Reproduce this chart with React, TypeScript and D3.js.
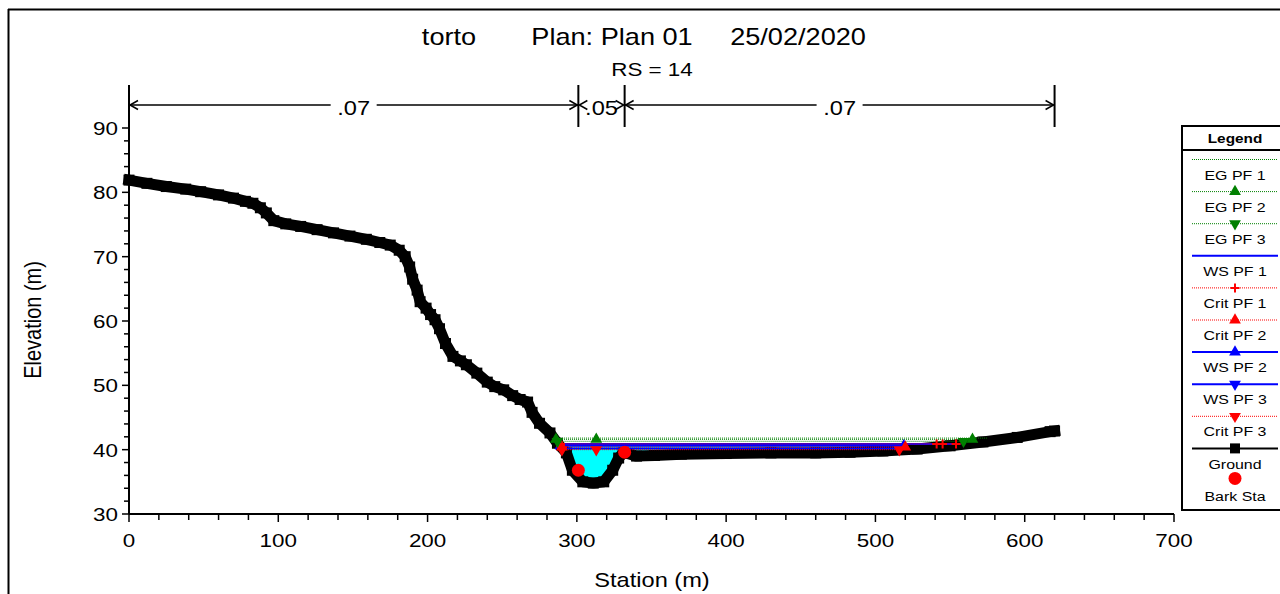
import React from 'react';
import * as d3 from 'd3';

// ground profile (station m, elevation m)
const groundSta = [0, 12, 25, 38, 48, 60, 70, 78, 83, 88, 92, 97, 105, 115, 126, 137, 148, 159, 168, 175, 181, 185, 188, 190, 193, 195, 199, 202, 205, 208, 212, 217, 222, 226, 233, 240, 245, 251, 257, 262, 267, 270, 275, 282, 287, 293, 297, 304, 311, 318, 324, 328, 331, 334, 340, 352, 370, 400, 430, 460, 483, 505, 528, 550, 572, 595, 617, 620];
const groundElev = [81.9, 81.4, 80.9, 80.5, 80.1, 79.6, 79.1, 78.6, 78.3, 77.6, 76.8, 75.6, 75.1, 74.7, 74.2, 73.7, 73.2, 72.7, 72.2, 71.8, 71.0, 70.0, 68.4, 66.5, 64.8, 63.0, 62.0, 61.0, 60.2, 58.8, 56.5, 54.5, 53.8, 53.2, 51.9, 50.5, 49.8, 49.3, 48.4, 47.8, 47.4, 45.8, 44.1, 42.6, 41.0, 39.5, 36.8, 35.0, 34.8, 35.0, 36.8, 38.7, 39.5, 39.4, 39.0, 39.1, 39.3, 39.4, 39.5, 39.5, 39.6, 39.8, 40.1, 40.6, 41.2, 41.9, 42.8, 42.9];

// water surface profiles [station, elevation]
const egPf1 = [[286, 41.8], [575, 41.8]];
const egPf2 = [[286, 41.6], [313, 41.6], [565, 41.6]];
const egPf3 = [[287, 41.3], [559, 41.3]];
const wsPf1 = [[287, 40.9], [557, 40.9]];
const critPf1 = [[289, 40.9], [541, 40.9], [545, 40.9], [554, 40.9]];
const critPf2 = [[290, 40.4], [520, 40.4]];
const wsPf2 = [[289, 40.6], [519, 40.6]];
const wsPf3 = [[290, 40.2], [516, 40.2]];
const critPf3 = [[290, 40.0], [313, 40.0], [516, 40.0]];

// bank stations
const bankSta = [301, 332];
const bankElev = [36.8, 39.6];

// manning n
const manningSta = [0, 301, 332, 620];
const manningN = ['.07', '.05', '.07'];

const xTicks = [0, 100, 200, 300, 400, 500, 600, 700];
const yTicks = [30, 40, 50, 60, 70, 80, 90];

const FONT = 'Liberation Sans, Arial, sans-serif';
const SX = 1.18;

const x = d3.scaleLinear().domain([0, 700]).range([129, 1174]);
const y = d3.scaleLinear().domain([30, 90]).range([514, 128]);

function T({ x: tx, y: ty, size, anchor = 'middle', weight, rotate, children }: any) {
  const tr = rotate
    ? `translate(${tx},${ty}) rotate(-90) scale(1,${SX})`
    : `translate(${tx},${ty}) scale(${SX},1)`;
  return (
    <text transform={tr} fontSize={size} textAnchor={anchor} dominantBaseline="central"
      fontFamily={FONT} fontWeight={weight} fill="#000">{children}</text>
  );
}

function Marker({ type, cx, cy, color }: any) {
  if (type === 'plus') {
    return <path d={`M${cx - 4.5},${cy}H${cx + 4.5}M${cx},${cy - 4.5}V${cy + 4.5}`} stroke={color} strokeWidth={2} />;
  }
  if (type === 'circle') return <circle cx={cx} cy={cy} r={6.5} fill={color} />;
  if (type === 'square') return <rect x={cx - 5} y={cy - 5} width={10} height={10} fill={color} />;
  const p = d3.symbol().type(d3.symbolTriangle).size(60)();
  return <path d={p || ''} fill={color} transform={`translate(${cx},${cy}) rotate(${type === 'down' ? 180 : 0})`} />;
}

const series = [
  { name: 'EG PF 1', data: egPf1, color: '#008000', dash: '1 1', width: 1, marker: null },
  { name: 'EG PF 2', data: egPf2, color: '#008000', dash: '1 1', width: 1, marker: 'up' },
  { name: 'EG PF 3', data: egPf3, color: '#008000', dash: '1 1', width: 1, marker: 'down' },
  { name: 'WS PF 1', data: wsPf1, color: '#0000ff', dash: null, width: 2, marker: null },
  { name: 'Crit PF 1', data: critPf1, color: '#ff0000', dash: '1 1', width: 1, marker: 'plus' },
  { name: 'Crit PF 2', data: critPf2, color: '#ff0000', dash: '1 1', width: 1, marker: 'up' },
  { name: 'WS PF 2', data: wsPf2, color: '#0000ff', dash: null, width: 2, marker: 'up' },
  { name: 'WS PF 3', data: wsPf3, color: '#0000ff', dash: null, width: 2, marker: 'down' },
  { name: 'Crit PF 3', data: critPf3, color: '#ff0000', dash: '1 1', width: 1, marker: 'down' },
];

const drawOrder = ['WS PF 1', 'WS PF 2', 'WS PF 3', 'Crit PF 1', 'Crit PF 2', 'Crit PF 3', 'EG PF 1', 'EG PF 2', 'EG PF 3'];

export default function App() {
  const ground = groundSta.map((s, i) => [s, groundElev[i]]);
  const line = d3.line<number[]>().x(d => x(d[0])).y(d => y(d[1]));

  // water fill under WS PF 1
  const ws = wsPf1[0][1];
  const lo = wsPf1[0][0], hi = wsPf1[1][0];
  const gAt = (s: number) => {
    const i = d3.bisectLeft(groundSta, s);
    if (i <= 0) return groundElev[0];
    const t = (s - groundSta[i - 1]) / (groundSta[i] - groundSta[i - 1]);
    return groundElev[i - 1] + t * (groundElev[i] - groundElev[i - 1]);
  };
  const fillPts = [lo, ...groundSta.filter(s => s > lo && s < hi), hi].map(s => [s, gAt(s)]);
  const area = d3.area<number[]>().x(d => x(d[0])).y0(d => y(Math.min(d[1], ws))).y1(() => y(ws));

  const ordered = drawOrder.map(n => series.find(s => s.name === n)!);

  // legend
  const lgX = 1182, lgTop = 126, lgBottom = 510, lgL = 1192, lgR = 1278, lgM = 1235;
  const rowY = (i: number) => 159.5 + i * 32.1;

  const arrowY = 105;
  return (
    <svg width={1280} height={594} style={{ position: 'absolute', left: 0, top: 0, background: '#fff' }}>
      {/* frame */}
      <line x1={8} x2={1280} y1={9.5} y2={9.5} stroke="#000" strokeWidth={2} />
      <line x1={8.5} x2={8.5} y1={9} y2={594} stroke="#000" strokeWidth={2} />

      {/* title */}
      <T x={449} y={37} size={23}>torto</T>
      <T x={612} y={37} size={23}>Plan: Plan 01</T>
      <T x={798} y={37} size={23}>25/02/2020</T>
      <T x={652} y={69} size={19}>RS = 14</T>

      {/* manning n brackets */}
      {manningSta.map(s => (
        <line key={'mv' + s} x1={x(s)} x2={x(s)} y1={85} y2={127} stroke="#000" strokeWidth={2} />
      ))}
      {manningN.map((n, i) => {
        const a = x(manningSta[i]), b = x(manningSta[i + 1]);
        const c = (a + b) / 2, w = 19;
        return (
          <g key={'mn' + i}>
            {c - w - 4 > a && <line x1={a} x2={c - w - 4} y1={arrowY} y2={arrowY} stroke="#000" strokeWidth={1.5} />}
            {c + w + 4 < b && <line x1={c + w + 4} x2={b} y1={arrowY} y2={arrowY} stroke="#000" strokeWidth={1.5} />}
            <path d={`M${a + 9},${arrowY - 4.5}L${a + 1},${arrowY}L${a + 9},${arrowY + 4.5}`} fill="none" stroke="#000" strokeWidth={1.5} />
            <path d={`M${b - 9},${arrowY - 4.5}L${b - 1},${arrowY}L${b - 9},${arrowY + 4.5}`} fill="none" stroke="#000" strokeWidth={1.5} />
            <T x={c} y={arrowY + 3} size={20}>{n}</T>
          </g>
        );
      })}

      {/* water fill */}
      <path d={area(fillPts) || ''} fill="#00ffff" />

      {/* ground */}
      <path d={line(ground) || ''} fill="none" stroke="#000" strokeWidth={11} strokeLinejoin="round" strokeLinecap="square" />
      {ground.map((d, i) => <rect key={'gs' + i} x={x(d[0]) - 5.5} y={y(d[1]) - 5.5} width={11} height={11} fill="#000" />)}

      {/* water surface lines */}
      {ordered.map(s => (
        <path key={'l' + s.name} d={line(s.data) || ''} fill="none" stroke={s.color}
          strokeWidth={s.width} strokeDasharray={s.dash || undefined} />
      ))}
      {ordered.filter(s => s.marker).map(s => (
        <g key={'m' + s.name}>
          {s.data.map((d, i) => <Marker key={i} type={s.marker} cx={x(d[0])} cy={y(d[1])} color={s.color} />)}
        </g>
      ))}

      {/* bank stations */}
      {bankSta.map((s, i) => <circle key={'b' + i} cx={x(s)} cy={y(bankElev[i])} r={6.5} fill="#ff0000" />)}

      {/* axes */}
      <line x1={x(0)} x2={x(0)} y1={86} y2={y(30)} stroke="#000" strokeWidth={2} />
      <line x1={x(0)} x2={x(700)} y1={y(30)} y2={y(30)} stroke="#000" strokeWidth={2} />
      {d3.range(30, 91, 2).map(v => (
        <line key={'yt' + v} x1={x(0) - (v % 10 === 0 ? 7 : 5)} x2={x(0)} y1={y(v)} y2={y(v)} stroke="#000" strokeWidth={1.5} />
      ))}
      {d3.range(0, 701, 20).map(v => (
        <line key={'xt' + v} x1={x(v)} x2={x(v)} y1={y(30)} y2={y(30) + (v % 100 === 0 ? 8 : 6)} stroke="#000" strokeWidth={1.5} />
      ))}
      {yTicks.map(v => <T key={'yl' + v} x={118} y={y(v)} size={19} anchor="end">{v}</T>)}
      {xTicks.map(v => <T key={'xl' + v} x={x(v)} y={540} size={19}>{v}</T>)}
      <T x={652} y={580} size={20}>Station (m)</T>
      <T x={33} y={320} size={20} rotate>Elevation (m)</T>

      {/* legend */}
      <rect x={lgX} y={lgTop} width={120} height={lgBottom - lgTop} fill="#fff" stroke="#000" strokeWidth={2} />
      <T x={lgM} y={138} size={13} weight="bold">Legend</T>
      <line x1={lgX} x2={1280} y1={150} y2={150} stroke="#000" strokeWidth={2} />
      {series.map((s, i) => (
        <g key={'lg' + s.name}>
          <line x1={lgL} x2={lgR} y1={rowY(i)} y2={rowY(i)} stroke={s.color} strokeWidth={s.width}
            strokeDasharray={s.dash || undefined} />
          {s.marker && <Marker type={s.marker} cx={lgM} cy={rowY(i)} color={s.color} />}
          <T x={lgM} y={rowY(i) + 15.5} size={13.5}>{s.name}</T>
        </g>
      ))}
      <line x1={lgL} x2={lgR} y1={rowY(9)} y2={rowY(9)} stroke="#000" strokeWidth={2} />
      <Marker type="square" cx={lgM} cy={rowY(9)} color="#000" />
      <T x={lgM} y={rowY(9) + 16.5} size={13.5}>Ground</T>
      <Marker type="circle" cx={lgM} cy={rowY(9) + 30} color="#ff0000" />
      <T x={lgM} y={rowY(9) + 48} size={13.5}>Bark Sta</T>
    </svg>
  );
}
